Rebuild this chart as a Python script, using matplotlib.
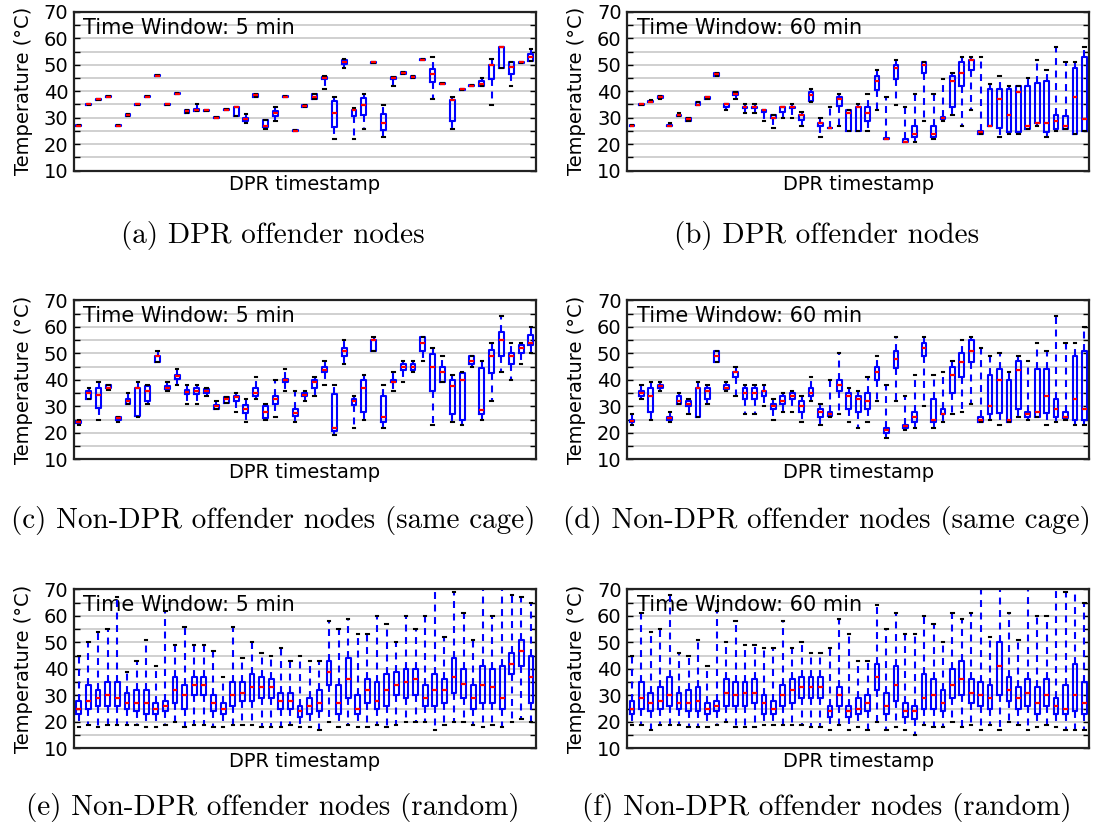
import matplotlib
matplotlib.use('Agg')
import matplotlib.pyplot as plt

# (lower whisker, q1, median, q3, upper whisker) per DPR timestamp
dpr_5 = [
    (26.8, 26.8, 27, 27.2, 27.2), (34.8, 34.8, 35, 35.2, 35.2), (36.7, 36.7, 36.9, 37.1, 37.1),
    (37.7, 37.7, 37.9, 38.1, 38.1), (26.8, 26.8, 27, 27.2, 27.2), (30.7, 30.8, 31, 31.3, 31.4),
    (34.8, 34.8, 35, 35.2, 35.2), (37.7, 37.7, 37.9, 38.1, 38.1), (45.6, 45.6, 45.8, 46, 46),
    (34.8, 34.8, 35, 35.2, 35.2), (38.8, 38.8, 39, 39.2, 39.2), (31.6, 31.6, 32.4, 32.9, 32.9),
    (32.5, 32.7, 33.1, 33.4, 35), (32.7, 32.7, 32.9, 33.1, 33.1), (29.8, 29.8, 30, 30.2, 30.2),
    (32.8, 32.8, 33, 33.2, 33.2), (30.8, 30.8, 34, 34.1, 34.1), (27.9, 28.6, 29.7, 29.9, 31.3),
    (38, 38, 38.6, 38.8, 38.8), (25.7, 26.6, 27, 29, 29), (28.9, 30.8, 31.9, 32.5, 33.9),
    (37.7, 37.7, 37.9, 38.1, 38.1), (24.8, 24.8, 25, 25.2, 25.2), (34.1, 34.1, 34.5, 34.9, 34.9),
    (37, 37, 37.9, 38.8, 38.8), (40.8, 44.7, 45, 45.3, 45.8), (22, 26.4, 31.9, 36.4, 37.9),
    (48.7, 50.4, 51.1, 51.9, 52.1), (22, 30.5, 32.8, 33, 33.8), (25.8, 31.1, 34.9, 37.4, 38.9),
    (50.6, 50.6, 50.9, 51.1, 51.1), (22.8, 25.3, 27.9, 31.5, 34.9), (42, 44.8, 45, 45.2, 45.2),
    (46.7, 46.7, 46.9, 47.1, 47.1), (45, 45.1, 45.5, 45.9, 45.9), (51.7, 51.7, 51.9, 52.1, 52.1),
    (36.9, 43.5, 46.5, 48.5, 52.9), (42.6, 42.6, 42.8, 43, 43), (25.8, 28.6, 36.8, 36.8, 37.9),
    (40.6, 40.6, 40.8, 41, 41), (41.8, 41.8, 42, 42.2, 42.2), (41.8, 41.8, 42.8, 44, 45),
    (34.9, 44.8, 49.9, 49.9, 52), (48.9, 48.9, 56.8, 56.8, 56.8), (42, 46.7, 49, 50.9, 50.9),
    (50.6, 50.6, 50.9, 51.2, 51.2), (51.5, 51.5, 52.9, 53.9, 56),
]
dpr_60 = [
    (26.8, 26.8, 27, 27.2, 27.2), (34.8, 34.8, 35, 35.2, 35.2), (35.8, 35.8, 36, 36.2, 36.8),
    (37.2, 37.6, 37.9, 38.1, 38.2), (26.8, 26.8, 27, 27.2, 27.9), (30.6, 30.6, 31, 31.2, 31.6),
    (28.6, 28.6, 29.4, 29.9, 29.9), (34.8, 34.8, 34.9, 35.9, 35.9), (36.9, 36.9, 37.9, 37.9, 37.9),
    (45.7, 45.7, 46.4, 46.9, 46.9), (32.9, 33.9, 35, 35, 35), (36.9, 38.6, 38.8, 39.8, 39.8),
    (31.9, 33.6, 33.9, 34.2, 35), (31.9, 33.6, 33.9, 34.2, 35), (28.9, 32, 32.9, 32.9, 32.9),
    (26, 29.9, 30, 31, 31), (30, 32, 33.9, 33.9, 33.9), (30, 33.6, 33.9, 34.1, 35),
    (27, 29, 31, 31, 32), (35.9, 36.5, 38.6, 39.6, 41), (22.8, 26.9, 27.9, 27.9, 30),
    (26, 26, 26, 26.2, 33.9), (27, 34.4, 36.9, 38, 38.9), (25, 25, 31.9, 33, 33),
    (25, 25, 33.9, 33.9, 35), (25, 28.9, 31.9, 33.9, 38.9), (32.9, 40.3, 43.8, 45.8, 47.9),
    (22, 22, 22, 22.2, 37.9), (34.9, 44.8, 48.9, 49.9, 51.9), (20.8, 20.8, 21, 21.9, 33.9),
    (21, 22.8, 24, 27, 38.9), (28.9, 46.9, 49.9, 50.9, 50.9), (22, 22.8, 24, 27, 38.9),
    (28.9, 29.7, 29.9, 30.1, 44.8), (30.9, 33.9, 43.8, 45.8, 46.9), (27, 41.8, 46.9, 50.9, 52.9),
    (32.9, 48, 51.9, 51.9, 52.9), (23.7, 23.7, 24.7, 25, 52.9), (26.9, 26.9, 26.9, 40.8, 42.8),
    (22.8, 26, 36.9, 40.9, 45.8), (24, 24.7, 30.9, 40.9, 42), (24, 24.7, 39.8, 42, 42),
    (25.8, 25.8, 27, 42, 45), (27, 27.9, 28, 43.3, 51.9), (22.8, 24.7, 28, 43.8, 47.9),
    (25, 25.8, 28.9, 30.9, 56.8), (25.8, 25.8, 27, 30.8, 50.9), (24, 24, 37.9, 48.9, 50.9),
    (25, 25, 29.4, 52.9, 56.8),
]
cage_5 = [
    (23.1, 23.6, 24.1, 24.5, 25), (32.9, 32.9, 34.9, 35.9, 37), (25, 29.5, 34.4, 37, 39),
    (36, 37, 37, 38, 38), (24, 25, 25.6, 26, 26), (30.9, 30.9, 31.9, 32.9, 35),
    (26, 26.5, 37, 37, 39), (30.9, 31.9, 35.9, 37.5, 38), (46.9, 46.9, 49, 49.1, 51),
    (35.9, 36.5, 37, 37.5, 39), (38, 40.5, 41.5, 42, 44), (30.9, 34.7, 35.5, 36.2, 38),
    (30.9, 34.7, 35.9, 37, 38), (34, 35.1, 35.8, 36.5, 37), (29, 29, 30, 30.5, 31.9),
    (31.4, 31.4, 32.9, 33.4, 33.4), (28, 31.9, 33.4, 34, 35), (24, 27.5, 29, 30.5, 32.9),
    (32.9, 34, 34.9, 37, 41), (25, 25.5, 28, 30, 30.9), (26, 30.9, 32.9, 34, 40),
    (35.9, 39, 40, 40.5, 44), (24, 26.5, 27.5, 29, 35.9), (31.9, 34, 34.4, 34.9, 35.9),
    (34, 37, 39, 40, 41), (38, 43, 43.9, 44.9, 47), (19, 20.7, 22, 34.7, 38),
    (45.9, 49, 51, 52, 55), (22, 30.5, 31.9, 32.9, 34), (25, 28, 37, 40, 42),
    (51, 51, 55, 55, 56), (22, 24, 26, 34, 38), (35.9, 39, 39, 40, 43),
    (39, 43.9, 44.9, 45.9, 47), (43, 43.9, 44.9, 45.9, 47), (47, 51, 54, 56, 56),
    (23, 35.9, 44.9, 49.6, 52), (39, 39, 43, 44.9, 49), (24, 27, 37.5, 40, 42),
    (23, 25, 40, 42.5, 43), (44.9, 45.9, 47, 49, 49), (25, 27, 28.5, 44.5, 47),
    (31.9, 42.6, 49, 51.4, 54), (43, 49, 55, 58, 64.1), (40, 45.9, 49, 50, 54),
    (45.9, 50, 52, 53, 54), (50, 53, 54, 57, 60),
]
cage_60 = [
    (23, 24, 24.5, 25, 27), (32.9, 34, 34.9, 35.9, 38), (25, 28, 34, 37, 39),
    (35.9, 37, 37.6, 38, 39), (24, 25, 25.5, 26, 28), (30.9, 30.9, 31.9, 34, 35),
    (27, 30, 30.9, 31.9, 32.9), (26, 26, 37, 37, 39), (30.9, 32.9, 35.9, 37, 38),
    (46.9, 46.9, 49, 51, 51), (35.9, 36.5, 37, 38, 39), (34, 41, 43, 43, 45),
    (27, 32.9, 34.9, 37, 38), (27, 32.9, 34.9, 37, 38), (30, 34, 35.9, 35.9, 38),
    (25, 29, 30, 30.9, 32.9), (28, 30.9, 31.9, 34, 35), (28, 32.9, 34, 35, 35.9),
    (24, 28, 30, 31.9, 34), (31.9, 34, 34.9, 37, 41), (23, 26, 28, 29, 30.9),
    (26, 26.5, 27, 28, 40), (27, 35.9, 38, 40, 50), (24, 29, 34, 35, 37),
    (22, 28, 32.9, 34, 35.9), (24, 29, 31.9, 35, 41), (31.9, 40, 43, 44.9, 49),
    (18, 20, 21, 22, 38), (31.9, 44.5, 48, 51, 56), (21, 22, 22.5, 23, 34),
    (22, 24, 26, 28, 42), (30, 49, 52, 54, 56), (22, 24, 25, 32.9, 42),
    (24, 27, 27, 29, 43), (27, 34.9, 42, 45, 47), (28, 41, 46.9, 50, 55),
    (30.9, 46.9, 51, 55, 56), (24, 24, 25, 26, 52), (25, 27, 30, 42, 49),
    (23, 27.5, 40, 44, 50), (24, 24, 25, 40, 43), (26, 29, 43.9, 47, 49),
    (25, 26, 27, 28, 47), (26, 26, 28, 44, 54), (23, 27.5, 34, 44, 51),
    (24, 26, 29, 32.9, 64.1), (25, 25.5, 26, 28, 54), (23, 25, 32.9, 49, 54),
    (23, 25, 29, 51, 60),
]
rand_5 = [
    (18, 22.9, 25, 28, 45), (18.9, 25, 28, 33.9, 50), (17.9, 26, 29, 32, 54),
    (18.9, 25.8, 30, 35, 54.9), (18.9, 25.8, 29, 35, 67), (18.9, 25, 27, 31, 39),
    (18.9, 24, 27, 32, 43), (17.9, 22.9, 27, 32, 51), (17.9, 22.9, 25, 27, 41),
    (18.9, 24, 26, 28, 61.8), (20, 27, 32, 37, 48.9), (17.9, 25, 30, 33.9, 55.9),
    (18.9, 30, 33.9, 37, 48.9), (18.9, 30, 33.9, 37, 48.9), (17.9, 24, 27, 30, 46.9),
    (17.9, 22.9, 25, 27, 37), (18.9, 26, 30, 35, 55.9), (18.9, 28, 31, 35, 44),
    (18.9, 28, 33, 38, 50), (17.9, 29, 33, 37, 45.9), (17.9, 29, 33, 36, 44.9),
    (17.9, 25, 28, 31, 48), (18.9, 25, 28, 31, 43), (17.9, 22, 24, 26, 44.9),
    (17.9, 22.9, 26, 29, 43), (16.9, 24, 27, 32, 43), (20, 33.9, 39, 43, 57.9),
    (17.9, 22.9, 27, 33.9, 54.9), (18.9, 29, 36, 44, 59), (17.9, 22.9, 25, 30, 53),
    (17.9, 27, 32, 36, 53), (18.9, 25, 28, 35, 60), (17.9, 26, 32, 38, 57),
    (18.9, 30, 33.9, 39, 50), (20, 29, 35, 40, 60), (20, 30, 36, 40, 54.9),
    (20, 26, 29, 33.9, 60), (16.9, 26, 32, 38, 72), (18.9, 27, 32, 36, 52),
    (20, 31, 37, 44, 69), (20, 29, 34.4, 40, 61), (18.9, 25, 29, 33.9, 51),
    (17.9, 27, 33.9, 41, 72), (18.9, 27, 33, 40, 60), (17.9, 25, 29, 41, 72),
    (20, 38, 42, 45.9, 68), (21, 41, 46.9, 51, 67), (20, 27, 37, 44.9, 65),
]
rand_60 = [
    (18.9, 22.9, 25, 28, 45), (18.9, 25, 29, 35, 61), (16.9, 24, 27, 31, 54),
    (18.9, 25, 28, 33, 54.9), (18.9, 26, 30, 37, 68), (18.9, 25, 27, 31, 45.9),
    (17.9, 24, 27, 32, 44.9), (17.9, 24, 28, 33, 51), (17.9, 22.9, 25, 27, 41),
    (18.9, 24, 26, 28, 61.8), (20, 26, 31, 36, 50), (17.9, 26, 30, 35, 57.9),
    (17.9, 26, 31, 35, 48.9), (17.9, 27, 31, 36, 48.9), (18.9, 22.9, 27, 30, 48),
    (18.9, 22.9, 25, 28, 48), (18.9, 26, 30, 33.9, 57.9), (18.9, 27, 32, 36, 48),
    (18.9, 29, 33, 37, 50), (17.9, 29, 33, 37, 45.9), (17.9, 29, 33, 37, 45.9),
    (16.9, 22, 24, 26, 48), (18.9, 26, 30, 33, 59), (16.9, 22, 24, 26, 53),
    (17.9, 22.9, 25, 29, 43), (16.9, 24, 27, 30, 43), (20, 32, 37, 42, 64),
    (16.9, 22.9, 26, 31, 54.9), (17.9, 28, 33.9, 41, 61), (16.9, 22, 24, 27, 53),
    (15, 21, 24, 26, 53), (18.9, 25, 29, 38, 60), (17.9, 25, 30, 36, 57),
    (17.9, 24, 27, 32, 50), (20, 29, 33.9, 40, 61), (17.9, 30, 36, 43, 59),
    (18.9, 27, 31, 36, 61), (16.9, 26, 30, 35, 72), (18.9, 25, 29, 33.9, 52),
    (16.9, 30, 41, 50, 72), (20, 28, 32, 37, 61), (18.9, 25, 29, 33, 51),
    (16.9, 26, 31, 36, 72), (17.9, 22.9, 27, 33, 60), (18.9, 26, 30, 36, 60),
    (17.9, 22.9, 26, 29, 72), (16.9, 22.9, 25, 33.9, 69), (16.9, 24, 30, 42, 72),
    (16.9, 22.9, 27, 35, 65),
]

panels = [dpr_5, dpr_60, cage_5, cage_60, rand_5, rand_60]
windows = ['5 min', '60 min'] * 3
captions = ['(a) DPR offender nodes', '(b) DPR offender nodes',
            '(c) Non-DPR offender nodes (same cage)', '(d) Non-DPR offender nodes (same cage)',
            '(e) Non-DPR offender nodes (random)', '(f) Non-DPR offender nodes (random)']

plt.rcParams['lines.scale_dashes'] = False

fig = plt.figure(figsize=(10.93, 8.31), dpi=100)
lefts = [0.0677, 0.5739]
bottoms = [0.7946, 0.4473, 0.0995]
cap_x = [0.2498, 0.7566]
cap_y = [0.717, 0.374, 0.028]

for i, data in enumerate(panels):
    row, col = i // 2, i % 2
    ax = fig.add_axes([lefts[col], bottoms[row], 0.4225, 0.1912])
    stats = [dict(whislo=lo, q1=q1, med=med, q3=q3, whishi=hi) for lo, q1, med, q3, hi in data]
    ax.bxp(stats, positions=range(1, len(stats) + 1), widths=0.5, showfliers=False,
           boxprops=dict(color='#0000ff', linewidth=1.5),
           medianprops=dict(color='#ff0000', linewidth=1.6),
           whiskerprops=dict(color='#0000ff', linewidth=1.5, linestyle=(0, (5, 4))),
           capprops=dict(color='black', linewidth=1.5))
    ax.set_xlim(0.5, len(stats) + 0.5)
    ax.set_ylim(10, 70)
    ax.set_yticks(range(10, 71, 5))
    ax.set_yticklabels([str(v) if v % 10 == 0 else '' for v in range(10, 71, 5)], fontsize=14)
    ax.tick_params(axis='y', direction='in', length=4, right=True, width=1, pad=4)
    ax.set_xticks([])
    ax.grid(axis='y', color='#c8c8c8', linewidth=1.2)
    ax.set_axisbelow(True)
    for s in ax.spines.values():
        s.set_linewidth(1.6)
        s.set_color('#222222')
    ax.set_xlabel('DPR timestamp', fontsize=14, labelpad=3)
    ax.set_ylabel('Temperature (°C)', fontsize=14, labelpad=8)
    ax.text(0.02, 0.9, 'Time Window: ' + windows[i], transform=ax.transAxes,
            fontsize=15, va='center', ha='left', zorder=1)
    fig.text(cap_x[col], cap_y[row], captions[i], family='cmr10', fontsize=21,
             ha='center', va='center')

plt.savefig('out.png', dpi=100)
